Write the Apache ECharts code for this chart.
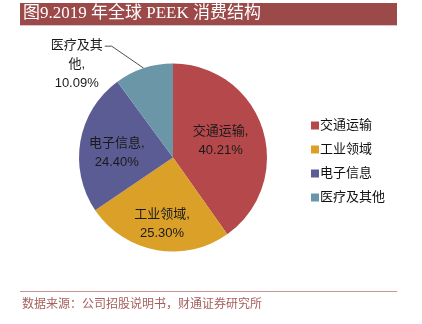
<!DOCTYPE html>
<html>
<head>
<meta charset="utf-8">
<script src="https://cdn.jsdelivr.net/npm/echarts@6/dist/echarts.min.js"></script>
<style>
  html, body { margin: 0; padding: 0; background: #fff; }
  #chart { width: 422px; height: 324px; }
</style>
</head>
<body>
<div id="chart"></div>
<script>
// 2019 global PEEK consumption by end use
const categories = ['交通运输', '工业领域', '电子信息', '医疗及其他'];
const shares = [40.21, 25.30, 24.40, 10.09];
const sliceColors = ['#b5484a', '#dba028', '#5a5c93', '#6a96a8'];
const titleText = '图9.2019 年全球 PEEK 消费结构';
const sourceText = '数据来源：公司招股说明书，财通证券研究所';

const sansFont = '"Liberation Sans", "Noto Sans CJK SC", sans-serif';
const serifFont = '"Liberation Serif", "DejaVu Serif", "Noto Sans CJK SC", serif';

const chart = echarts.init(document.getElementById('chart'), null, { renderer: 'canvas' });

// nudges for the inside labels so they sit clear of the slice edges
const insideNudge = [[0, -1], [-2, 17], [-7, 4]];

const seriesData = categories.map((name, i) => {
  const item = { name, value: shares[i], itemStyle: { color: sliceColors[i] } };
  if (i === 3) {
    item.label = {
      position: 'outside',
      formatter: '医疗及其\n他,\n' + shares[i].toFixed(2) + '%',
      align: 'center'
    };
    item.labelLine = { show: true, length: 10, length2: 10, lineStyle: { color: '#222', width: 0.8 } };
  }
  return item;
});

chart.setOption({
  animation: false,
  graphic: [
    { type: 'rect', left: 20, top: 3, shape: { width: 377, height: 22 }, style: { fill: '#9b4a49' } },
    { type: 'rect', left: 20, top: 25, shape: { width: 377, height: 1 }, style: { fill: '#d7c7c7' } },
    { type: 'text', left: 23, top: 5, style: { text: titleText, fill: '#ffffff', font: '17px ' + serifFont } },
    { type: 'rect', left: 20, top: 291, shape: { width: 377, height: 1 }, style: { fill: '#c99494' } },
    { type: 'text', left: 22, top: 299, style: { text: sourceText, fill: '#a4605d', font: '12px ' + serifFont } }
  ],
  legend: {
    orient: 'vertical',
    left: 306,
    top: 114,
    itemWidth: 8,
    itemHeight: 8,
    itemGap: 11,
    icon: 'rect',
    data: categories,
    textStyle: { fontFamily: sansFont, fontSize: 13, color: '#111', padding: [0, 0, 0, -4] }
  },
  series: [{
    type: 'pie',
    center: [173, 157.5],
    radius: 94,
    startAngle: 90,
    clockwise: true,
    avoidLabelOverlap: false,
    data: seriesData,
    label: {
      show: true,
      position: 'inside',
      formatter: (p) => p.name + ',\n' + p.value.toFixed(2) + '%',
      fontFamily: sansFont,
      fontSize: 13,
      lineHeight: 19,
      color: '#1a1a1a'
    },
    labelLine: { show: false },
    labelLayout: (params) => {
      const i = params.dataIndex;
      if (i < 3) {
        return { dx: insideNudge[i][0], dy: insideNudge[i][1] };
      }
      // outside label: short bent leader ending at the first text line
      const pts = params.labelLinePoints;
      if (!pts) return {};
      const p0 = pts[0];
      const p1 = [p0[0] - 32, p0[1] - 22];
      const p2 = [p1[0] - 7, p1[1]];
      const w = params.labelRect.width;
      return {
        x: p2[0] - 2 - w / 2,
        y: p2[1] - 10,
        align: 'center',
        verticalAlign: 'top',
        labelLinePoints: [p0, p1, p2]
      };
    }
  }]
});
</script>
</body>
</html>
